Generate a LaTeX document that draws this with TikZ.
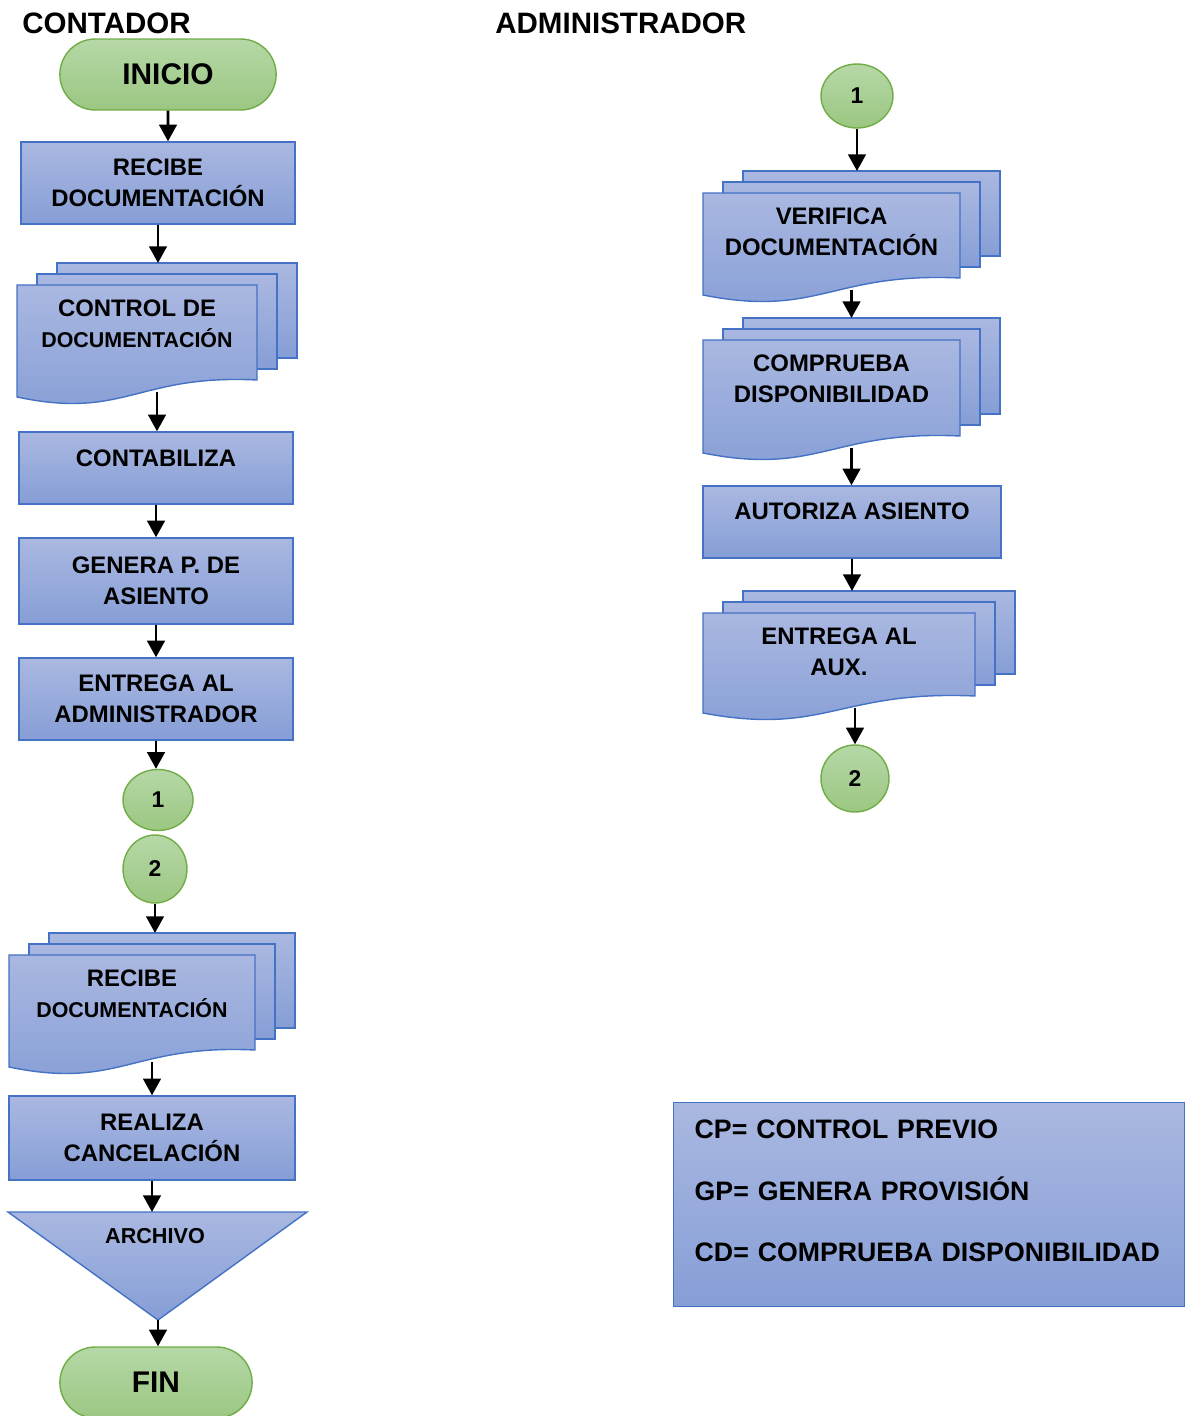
\documentclass[tikz,border=0pt]{standalone}
\usepackage{fontspec}
\setmainfont{Liberation Sans}
\usetikzlibrary{shapes.geometric, shapes.misc, arrows.meta}

\definecolor{boxtop}{HTML}{AAB8E1}
\definecolor{boxbot}{HTML}{869ED6}
\definecolor{boxedge}{HTML}{4472C4}
\definecolor{termtop}{HTML}{B6D8A7}
\definecolor{termbot}{HTML}{9BC782}
\definecolor{termedge}{HTML}{70AD47}

\newcommand{\titlefont}{\fontsize{16.8}{19}\selectfont\bfseries}
\newcommand{\termfont}{\fontsize{17}{19}\selectfont\bfseries}
\newcommand{\procfont}{\fontsize{13.6}{17.6}\selectfont\bfseries}
\newcommand{\smallproc}{\fontsize{12.2}{17.6}\selectfont}
\newcommand{\numfont}{\fontsize{13}{14}\selectfont\bfseries}
\newcommand{\archfont}{\fontsize{12.3}{14}\selectfont\bfseries}
\newcommand{\legendfont}{\fontsize{15.2}{35.2}\selectfont\bfseries}

% multidocument: name, left, top, width, height, text
\newcommand{\multidoc}[6]{%
  \draw[sheet] ({#2+40},{#3-22}) rectangle ({#2+40+#4},{#3-22+#5});
  \draw[sheet] ({#2+20},{#3-11}) rectangle ({#2+20+#4},{#3-11+#5});
  \draw[sheet] (#2,#3) -- ({#2+#4},#3) -- ({#2+#4},{#3+#5})
    .. controls ({#2+0.5*#4},{#3+#5-6}) and ({#2+0.45*#4},{#3+#5+40}) .. (#2,{#3+#5+17}) -- cycle;
  \node[doctext] (#1) at ({#2+0.5*#4},{#3+39}) {#6};
  \coordinate (#1-n) at ({#2+20+0.5*#4},{#3-22});
  \coordinate (#1-s) at ({#2+20+0.5*#4},{#3+#5+12});
}

\begin{document}
\begin{tikzpicture}[x=0.02cm, y=-0.02cm,
    title/.style={anchor=west, inner sep=0pt, font=\titlefont},
    terminal/.style={rounded rectangle, draw=termedge, line width=0.8pt, top color=termtop, bottom color=termbot, minimum height=1.42cm, font=\termfont},
    connector/.style={ellipse, draw=termedge, line width=0.8pt, top color=termtop, bottom color=termbot, inner sep=0pt, font=\numfont},
    process/.style={rectangle, draw=boxedge, line width=0.8pt, top color=boxtop, bottom color=boxbot, align=center, font=\procfont},
    sheet/.style={draw=boxedge, line width=0.8pt, top color=boxtop, bottom color=boxbot},
    doctext/.style={inner sep=0pt, align=center, font=\procfont},
    legend/.style={rectangle, draw=boxedge, line width=0.8pt, top color=boxtop, bottom color=boxbot, align=left, font=\legendfont, text width=9.38cm, inner xsep=0.42cm, minimum height=4.08cm},
    flow/.style={-{Triangle[length=9.5pt, width=10pt]}, line width=1.6pt}]

    \useasboundingbox (0,0) rectangle (1185,1416);

    % Titles
    \node[title] (contador) at (22,23) {CONTADOR};
    \node[title] (admin) at (495,23) {ADMINISTRADOR};

    % Contador column
    \node[terminal, minimum width=4.56cm] (inicio) at (168,74.5) {INICIO};
    \node[process, minimum width=5.48cm, minimum height=1.64cm] (recibe) at (158,183) {RECIBE\\DOCUMENTACIÓN};
    \multidoc{control}{17}{285}{240}{95}{CONTROL DE\\{\smallproc DOCUMENTACIÓN}}
    \node[process, minimum width=5.48cm, minimum height=1.44cm] (contab) at (156,468) {CONTABILIZA\\[-6.3pt]\mbox{}};
    \node[process, minimum width=5.48cm, minimum height=1.72cm] (genera) at (156,581) {GENERA P. DE\\ASIENTO};
    \node[process, minimum width=5.48cm, minimum height=1.64cm] (entrega) at (156,699) {ENTREGA AL\\ADMINISTRADOR};
    \node[connector, minimum width=1.4cm, minimum height=1.22cm] (uno) at (158,800) {1};
    \node[connector, minimum width=1.28cm, minimum height=1.36cm] (dos) at (155,869) {2};
    \multidoc{recibeb}{9}{955}{246}{95}{RECIBE\\{\smallproc DOCUMENTACIÓN}}
    \node[process, minimum width=5.72cm, minimum height=1.68cm] (realiza) at (152,1138) {REALIZA\\CANCELACIÓN};
    \draw[sheet] (8,1212) -- (307,1212) -- (158,1320) -- cycle;
    \node[doctext, font=\archfont] (archivo) at (155,1236) {ARCHIVO};
    \coordinate (archivo-n) at (153,1212);
    \coordinate (archivo-s) at (158,1320);
    \node[terminal, minimum width=4.08cm] (fin) at (156,1382.5) {FIN};

    % Administrador column
    \node[connector, minimum width=1.44cm, minimum height=1.28cm] (unob) at (857,96) {1};
    \multidoc{verifica}{703}{193}{257}{85}{VERIFICA\\DOCUMENTACIÓN}
    \multidoc{comprueba}{703}{340}{257}{96}{COMPRUEBA\\DISPONIBILIDAD}
    \node[process, minimum width=5.96cm, minimum height=1.44cm] (autoriza) at (852,522) {AUTORIZA ASIENTO\\[-5pt]\mbox{}};
    \multidoc{entregab}{703}{613}{272}{83}{ENTREGA AL\\AUX.}
    \node[connector, minimum width=1.36cm, minimum height=1.34cm] (dosb) at (855,778.5) {2};

    % Legend
    \node[legend, anchor=north west] (leyenda) at (673,1102) {CP= CONTROL PREVIO\\GP= GENERA PROVISIÓN\\CD= COMPRUEBA DISPONIBILIDAD\\[-19.3pt]\mbox{}};

    % Flow lines
    \draw[flow] (inicio) -- (inicio |- recibe.north);
    \draw[flow] (recibe) -- (recibe |- control-n);
    \draw[flow] (control-s) -- (control-s |- contab.north);
    \draw[flow] (contab) -- (contab |- genera.north);
    \draw[flow] (genera) -- (genera |- entrega.north);
    \draw[flow] (entrega) -- (entrega |- uno.north);
    \draw[flow] (dos) -- (dos |- recibeb-n);
    \draw[flow] (recibeb-s) -- (recibeb-s |- realiza.north);
    \draw[flow] (realiza) -- (realiza |- archivo-n);
    \draw[flow] (archivo-s) -- (archivo-s |- fin.north);
    \draw[flow] (unob) -- (unob |- verifica-n);
    \draw[flow] (verifica-s) -- (verifica-s |- comprueba-n);
    \draw[flow] (comprueba-s) -- (comprueba-s |- autoriza.north);
    \draw[flow] (autoriza) -- (autoriza |- entregab-n);
    \draw[flow] (dosb |- entregab-s) -- (dosb);

\end{tikzpicture}
\end{document}
